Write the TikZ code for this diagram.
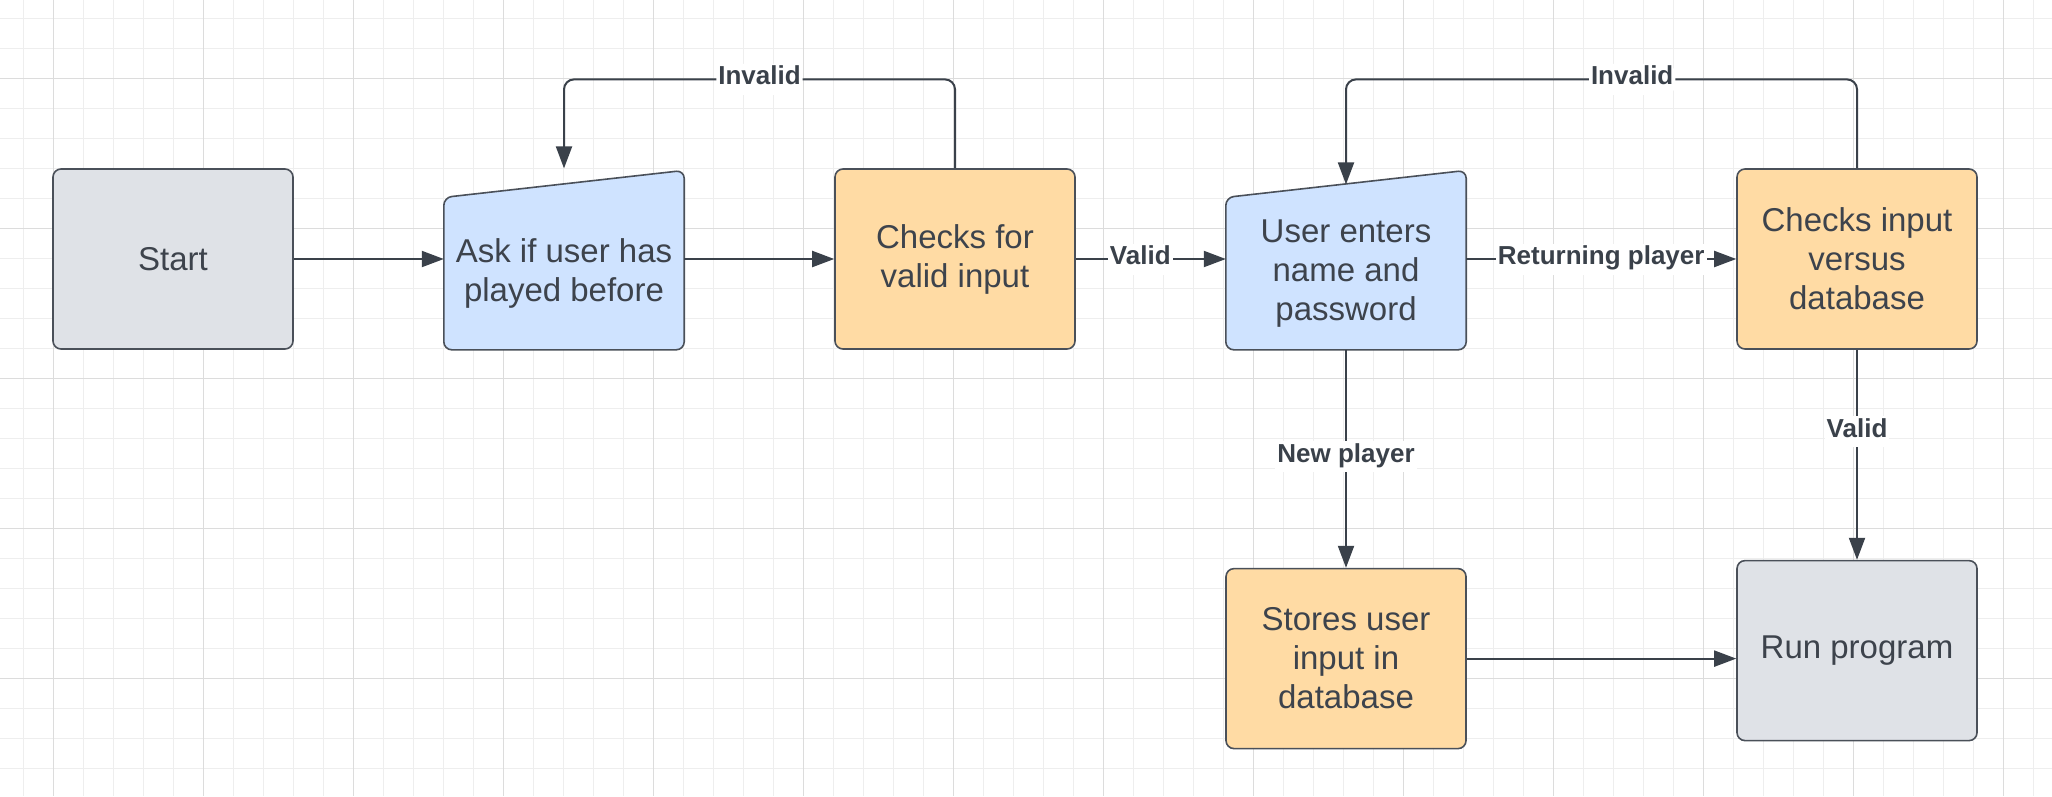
\documentclass[tikz,border=0pt]{standalone}
\usepackage{fontspec}
\setmainfont{Liberation Sans}
\usepackage{tikz}
\usetikzlibrary{arrows.meta,positioning,calc,backgrounds}
\definecolor{linegray}{HTML}{3A414A}
\definecolor{edgegray}{HTML}{4A5059}
\definecolor{textgray}{HTML}{3D434C}
\definecolor{greyfill}{HTML}{DFE2E7}
\definecolor{bluefill}{HTML}{CFE3FF}
\definecolor{orangefill}{HTML}{FFDBA4}
\definecolor{gridminor}{HTML}{EEEEEE}
\definecolor{gridmajor}{HTML}{DCDCDC}

\begin{document}
\begin{tikzpicture}[x=1pt, y=1pt, node distance=150pt, >={Triangle[length=22pt,width=16pt]},
  box/.style={draw=edgegray, line width=1.6pt, rounded corners=8pt, minimum width=240pt, minimum height=180pt, align=center, text=textgray, font=\fontsize{33}{39}\selectfont},
  inbox/.style={minimum width=240pt, minimum height=152pt, align=center, text=textgray, font=\fontsize{33}{39}\selectfont},
  conn/.style={->, draw=linegray, line width=2pt},
  lbl/.style={fill=white, inner sep=2pt, text height=19pt, text depth=8pt, text=linegray, font=\bfseries\fontsize{26}{30}\selectfont}]
\useasboundingbox (0,0) rectangle (2052,-796);
\node[box, fill=greyfill] (start) at (173,-259) {Start};
\node[inbox, right=of start.south east, anchor=south west] (ask) {Ask if user has\\played before};
\node[box, fill=orangefill, right=of ask.south east, anchor=south west] (checks) {Checks for\\valid input};
\node[inbox, right=of checks.south east, anchor=south west] (enter) {User enters\\name and\\password};
\node[box, fill=orangefill, right=270pt of enter.south east, anchor=south west] (versus) {Checks input\\versus\\database};
\node[box, fill=orangefill, below=218pt of enter] (store) {Stores user\\input in\\database};
\node[box, fill=greyfill, below=210pt of versus] (run) {Run program};
\coordinate (topA) at ([yshift=118pt]ask.north);
\coordinate (topB) at ([yshift=118pt]enter.north);
\draw[conn] (start.east) -- (start.east -| ask.west);
\draw[conn] (ask.east |- checks) -- (checks.west);
\draw[conn] (checks.east) -- node[lbl, pos=.43] {Valid} (checks.east -| enter.west);
\draw[conn] (enter.east |- versus) -- node[lbl] {Returning player} (versus.west);
\draw[conn] (enter.south) -- node[lbl, pos=.49] {New player} (store.north);
\draw[conn] (versus.south) -- node[lbl, pos=.39] {Valid} (run.north);
\draw[conn] (store.east) -- (store.east -| run.west);
\draw[conn, rounded corners=10pt] (checks.north) |- node[lbl, pos=.75] {Invalid} (topA) -- ([yshift=29pt]ask.north);
\draw[conn, rounded corners=10pt] (versus.north) |- node[lbl, pos=.72] {Invalid} (topB) -- ([yshift=13pt]enter.north);
\begin{scope}[on background layer]
\fill[white] (0,0) rectangle (2052,-796);
\foreach \gx in {23,53,...,2043} \draw[gridminor, line width=1pt] (\gx,0) -- (\gx,-796);
\foreach \gy in {18,48,...,788} \draw[gridminor, line width=1pt] (0,-\gy) -- (2052,-\gy);
\foreach \gx in {53,203,...,2003} \draw[gridmajor, line width=1pt] (\gx,0) -- (\gx,-796);
\foreach \gy in {78,228,...,678} \draw[gridmajor, line width=1pt] (0,-\gy) -- (2052,-\gy);
\foreach \n in {ask,enter}
  \draw[edgegray, fill=bluefill, line width=1.6pt, rounded corners=8pt] (\n.south west) -- (\n.north west) -- ([yshift=27pt]\n.north east) -- (\n.south east) -- cycle;
\end{scope}
\end{tikzpicture}
\end{document}
